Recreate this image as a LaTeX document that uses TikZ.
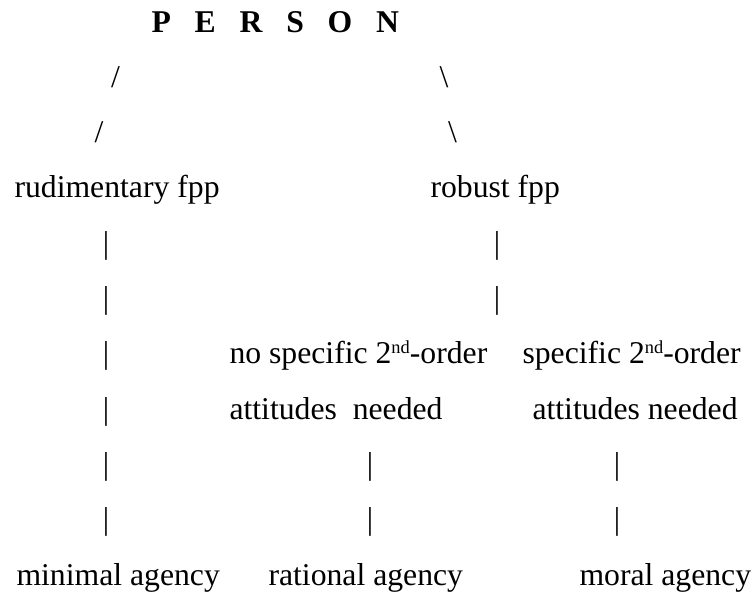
\documentclass[tikz,border=0pt]{standalone}
\usepackage{fontspec}
\setmainfont{Liberation Serif}
\newcommand{\ndsup}{\raisebox{0.33em}{\fontsize{18.4}{20}\selectfont nd}}
\begin{document}
\begin{tikzpicture}[x=1pt,y=-1pt,
  every node/.style={inner sep=0pt, outer sep=0pt, font=\fontsize{31.7}{38}\selectfont},
  txt/.style={anchor=base west},
  glyph/.style={anchor=base},
  title/.style={anchor=base west, font=\fontsize{31.7}{38}\selectfont\bfseries}]
\useasboundingbox (0,0) rectangle (754,592);
% title
\node[title] (person) at (151.5,32) {P\hspace{23.8pt}E\hspace{23.8pt}R\hspace{23.8pt}S\hspace{23.8pt}O\hspace{23.8pt}N};
% slashes
\node[glyph] (sl1) at (115.5,87.3) {/};
\node[glyph] (sl2) at (99,142.6) {/};
\node[glyph] (bs1) at (444,87.3) {\textbackslash};
\node[glyph] (bs2) at (452.5,142.6) {\textbackslash};
% level 1
\node[txt] (rud) at (14.5,197.9) {rudimentary fpp};
\node[txt] (rob) at (430.5,197.9) {robust fpp};
% left column bars
\node[glyph] (l1) at (106,253.2) {|};
\node[glyph] (l2) at (106,308.5) {|};
\node[glyph] (l3) at (106,363.8) {|};
\node[glyph] (l4) at (106,419.1) {|};
\node[glyph] (l5) at (106,474.4) {|};
\node[glyph] (l6) at (106,529.7) {|};
% robust bars
\node[glyph] (r1) at (497,253.2) {|};
\node[glyph] (r2) at (497,308.5) {|};
% level 2
\node[txt] (nos1) at (229.5,363.8) {no specific 2\ndsup-order};
\node[txt] (nos2) at (229.5,419.1) {attitudes\ \ needed};
\node[txt] (sp1) at (522.5,363.8) {specific 2\ndsup-order};
\node[txt] (sp2) at (532.5,419.1) {attitudes needed};
% lower bars
\node[glyph] (a1) at (370,474.4) {|};
\node[glyph] (a2) at (370,529.7) {|};
\node[glyph] (m1) at (617,474.4) {|};
\node[glyph] (m2) at (617,529.7) {|};
% bottom
\node[txt] (min) at (16.5,585) {minimal agency};
\node[txt] (rat) at (268.5,585) {rational agency};
\node[txt] (mor) at (579.5,585) {moral agency};
\end{tikzpicture}
\end{document}
